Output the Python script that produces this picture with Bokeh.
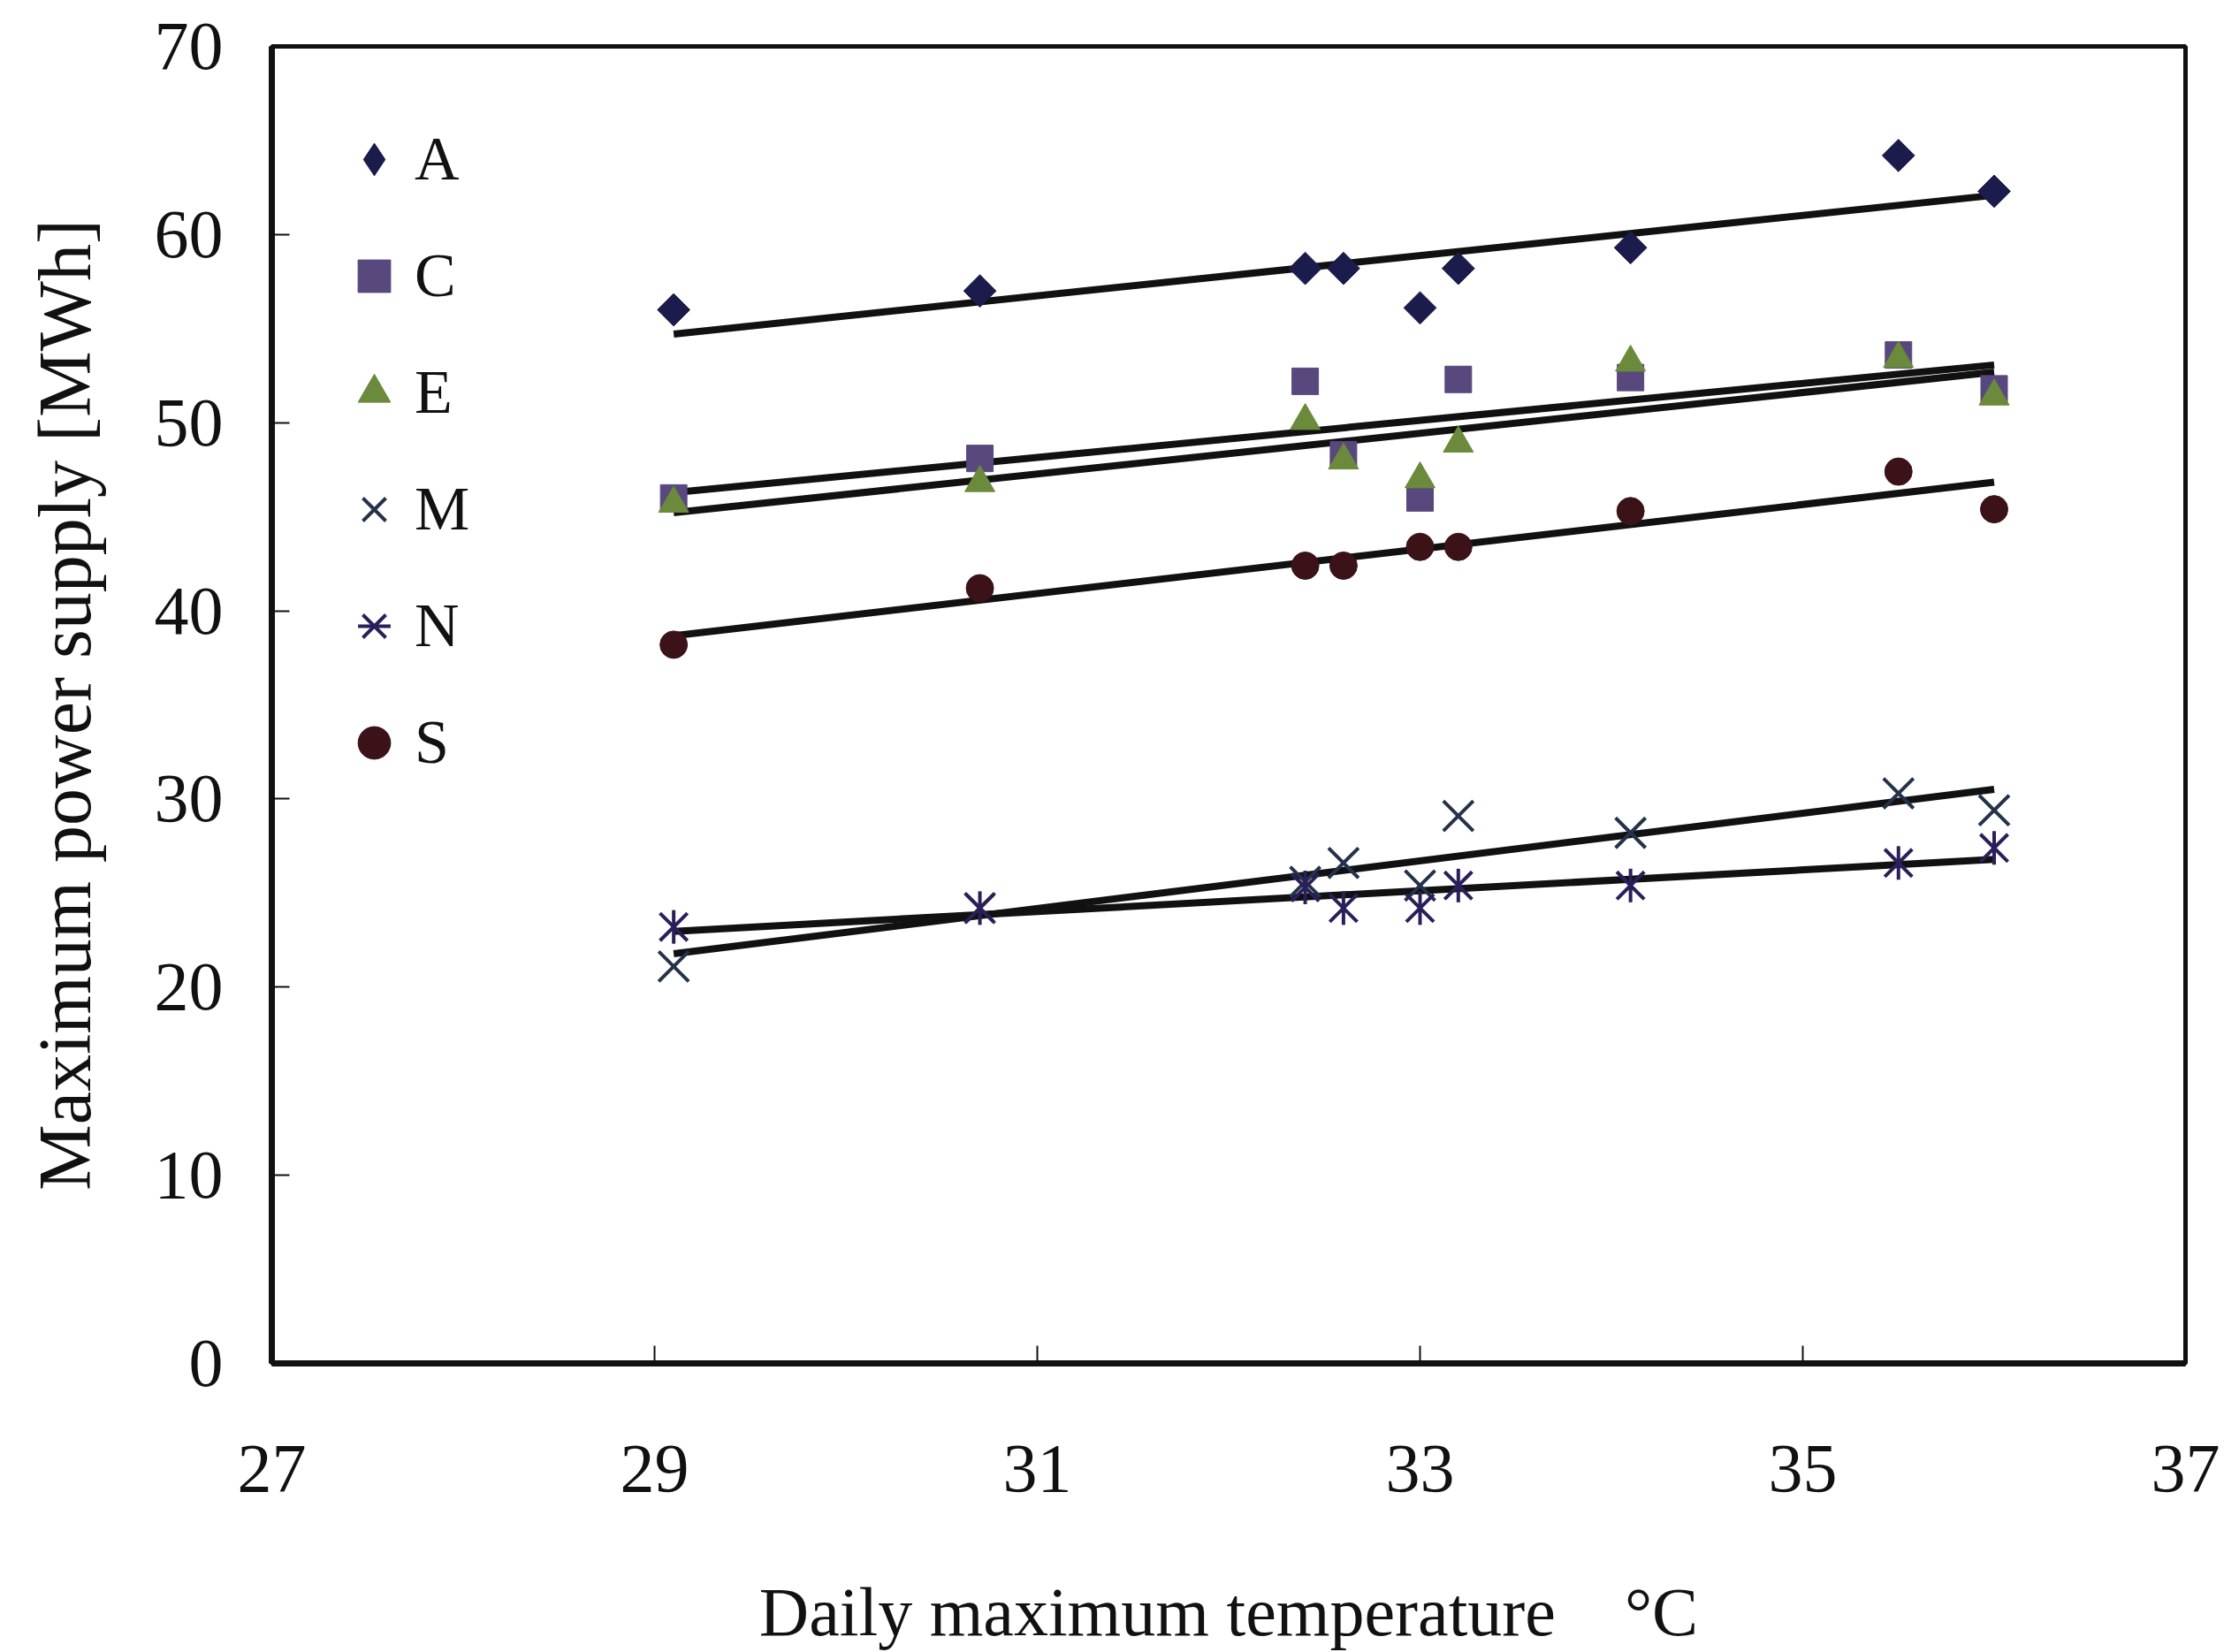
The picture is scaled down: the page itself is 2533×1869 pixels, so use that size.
import numpy as np
from bokeh.plotting import figure
from bokeh.models import Range1d, Legend, LegendItem, FixedTicker
from bokeh.embed import file_html
from bokeh.resources import INLINE

# ---- data ----
temps = [29.1, 30.7, 32.4, 32.6, 33.0, 33.2, 34.1, 35.5, 36.0]
series_A = [56.0, 57.0, 58.2, 58.2, 56.1, 58.2, 59.3, 64.2, 62.3]
series_C = [46.0, 48.1, 52.2, 48.3, 46.0, 52.3, 52.4, 53.6, 51.8]
series_E = [45.7, 46.8, 50.1, 48.0, 47.0, 48.9, 53.2, 53.4, 51.4]
series_M = [21.1, 24.2, 25.6, 26.6, 25.4, 29.1, 28.2, 30.3, 29.4]
series_N = [23.2, 24.2, 25.3, 24.2, 24.2, 25.4, 25.4, 26.6, 27.4]
series_S = [38.2, 41.2, 42.4, 42.4, 43.4, 43.4, 45.3, 47.4, 45.4]
x_ticks = [27, 29, 31, 33, 35, 37]
y_ticks = [0, 10, 20, 30, 40, 50, 60, 70]
names = ["A", "C", "E", "M", "N", "S"]

FONT = "Liberation Serif"
NB = "\u00a0"

p = figure(width=2533, height=1869, x_range=Range1d(27, 37), y_range=Range1d(0, 70),
           output_backend="svg", toolbar_location=None,
           min_border_left=307, min_border_right=61, min_border_top=52, min_border_bottom=326)
p.background_fill_color = "white"
p.border_fill_color = "white"
p.grid.visible = False
p.outline_line_color = "#111111"
p.outline_line_width = 5

for ax in (p.xaxis[0], p.yaxis[0]):
    ax.axis_line_width = 7
    ax.axis_line_color = "#111111"
    ax.major_tick_in = 20
    ax.major_tick_out = 0
    ax.major_tick_line_width = 2
    ax.major_tick_line_color = "#111111"
    ax.minor_tick_line_color = None
    ax.major_label_text_font = FONT
    ax.major_label_text_font_size = "78px"
    ax.major_label_text_color = "#111111"
    ax.axis_label_text_font = FONT
    ax.axis_label_text_font_style = "normal"
    ax.axis_label_text_color = "#111111"

p.xaxis.ticker = FixedTicker(ticks=x_ticks)
p.yaxis.ticker = FixedTicker(ticks=y_ticks)
p.xaxis.major_label_standoff = 93
p.yaxis.major_label_standoff = 55
p.xaxis.axis_label = "Daily maximum temperature" + NB * 4 + "°C"
p.yaxis.axis_label = "Maximum power supply [MWh]"
p.xaxis.axis_label_text_font_size = "78px"
p.yaxis.axis_label_text_font_size = "84px"
p.xaxis.axis_label_standoff = 90
p.yaxis.axis_label_standoff = 52

x = np.array(temps)
xs_fit = np.array([min(temps), max(temps)])

def trend(vals):
    k, b = np.polyfit(x, np.array(vals), 1)
    p.line(xs_fit, k * xs_fit + b, line_color="#111111", line_width=8)

for vals in (series_A, series_C, series_E, series_M, series_N, series_S):
    trend(vals)

colA, colC, colE, colM, colN, colS = "#1c1c4c", "#58487e", "#6b8a3b", "#24324a", "#2a1f5a", "#3a1217"

rA = p.scatter(temps, series_A, marker="square", angle=np.pi / 4, size=26,
               fill_color=colA, line_color=colA)
# legend stand-in for A (legend glyphs are never rotated)
rA_leg = p.scatter(temps, series_A, marker="diamond", size=46, fill_color=colA, line_color=colA)
rA_leg.visible = False
rC = p.scatter(temps, series_C, marker="square", size=30, fill_color=colC, line_color=colC)
rE = p.scatter(temps, series_E, marker="triangle", size=34, fill_color=colE, line_color=colE)
rM = p.scatter(temps, series_M, marker="x", size=48, line_color=colM, line_width=4)
rN1 = p.scatter(temps, series_N, marker="x", size=44, line_color=colN, line_width=4)
rN2 = p.scatter(temps, series_N, marker="dash", size=38, angle=np.pi / 2, line_color=colN, line_width=4)
rS = p.scatter(temps, series_S, marker="circle", size=31, fill_color=colS, line_color=colS)

legend = Legend(items=[
    LegendItem(label=names[0], renderers=[rA_leg]),
    LegendItem(label=names[1], renderers=[rC]),
    LegendItem(label=names[2], renderers=[rE]),
    LegendItem(label=names[3], renderers=[rM]),
    LegendItem(label=names[4], renderers=[rN1, rN2]),
    LegendItem(label=names[5], renderers=[rS]),
], location=(60, 646))
legend.margin = 0
legend.padding = 10
legend.glyph_width = 92
legend.glyph_height = 92
legend.label_height = 92
legend.spacing = 40
legend.label_standoff = 0
legend.label_text_font = FONT
legend.label_text_font_size = "70px"
legend.label_text_color = "#111111"
legend.border_line_alpha = 0
legend.background_fill_alpha = 0
p.add_layout(legend)

open("out.html", "w").write(file_html(p, INLINE))
